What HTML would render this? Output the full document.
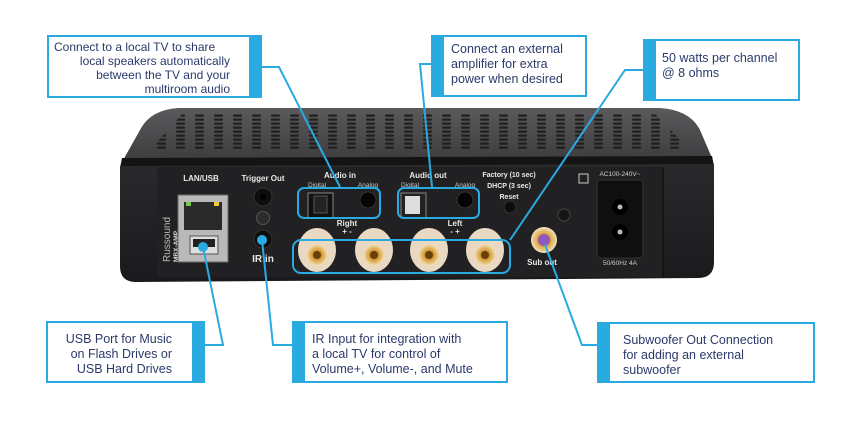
<!DOCTYPE html>
<html><head><meta charset="utf-8"><style>
html,body{margin:0;padding:0;background:#fff;}
body{width:852px;height:429px;position:relative;overflow:hidden;font-family:"Liberation Sans",sans-serif;}
.box{position:absolute;box-sizing:border-box;border:2px solid #29abe2;background:#fff;color:#2b3a6b;font-size:12.5px;line-height:15px;}
.barR{border-right:13px solid #29abe2;}
.barL{border-left:13px solid #29abe2;}
svg{position:absolute;left:0;top:0;}
</style></head><body>
<svg width="852" height="429" viewBox="0 0 852 429">
<defs>
<pattern id="vent" width="19" height="4" patternUnits="userSpaceOnUse" x="5" y="110">
<rect x="0" y="0.5" width="9" height="2.2" rx="1" fill="#1b1b1c"/>
</pattern>
<linearGradient id="topg" x1="0" y1="0" x2="0" y2="1">
<stop offset="0" stop-color="#5a5a5c"/><stop offset="1" stop-color="#3c3c3e"/>
</linearGradient>
<linearGradient id="frontg" x1="0" y1="0" x2="0" y2="1">
<stop offset="0" stop-color="#2a2a2c"/><stop offset="1" stop-color="#1a1a1c"/>
</linearGradient>
<radialGradient id="gold"><stop offset="0" stop-color="#8a5a10"/><stop offset="0.5" stop-color="#d9a441"/><stop offset="1" stop-color="#f3e2c0"/></radialGradient>
</defs>
<path d="M178,108 L660,108 Q690,110 700,130 L712,158 L122,162 L140,130 Q150,110 178,108 Z" fill="url(#topg)"/>
<path d="M182,114 L655,114 L690,150 L150,150 Z" fill="url(#vent)" opacity="0.9"/>
<path d="M122,158 L712,156 L714,166 L120,168 Z" fill="#141415"/>
<path d="M120,166 L714,164 L714,262 Q714,278 698,278 L136,282 Q120,282 120,266 Z" fill="url(#frontg)"/>
<rect x="157" y="167" width="506" height="110" fill="#212123"/>
<line x1="663" y1="167" x2="663" y2="277" stroke="#111" stroke-width="1.5"/>
<g fill="#e8e8e8" font-family="Liberation Sans,sans-serif" font-weight="bold" font-size="8" text-anchor="middle">
<text x="201" y="181">LAN/USB</text>
<text x="263" y="181">Trigger Out</text>
<text x="340" y="178">Audio in</text>
<text x="428" y="178">Audio out</text>
<text x="509" y="177" font-size="7">Factory (10 sec)</text>
<text x="509" y="188" font-size="7">DHCP (3 sec)</text>
<text x="509" y="199" font-size="7">Reset</text>
<text x="347" y="226">Right</text>
<text x="347" y="234">+ -</text>
<text x="455" y="226">Left</text>
<text x="455" y="234">- +</text>
<text x="263" y="262" font-size="10">IR in</text>
<text x="542" y="265">Sub out</text>
</g>
<g fill="#ccc" font-size="6.5" text-anchor="middle" font-family="Liberation Sans,sans-serif">
<text x="317" y="187">Digital</text><text x="368" y="187">Analog</text>
<text x="410" y="187">Digital</text><text x="465" y="187">Analog</text>
<text x="620" y="176">AC100-240V~</text>
<text x="620" y="265">50/60Hz 4A</text>
</g>
<text x="0" y="0" transform="translate(170,262) rotate(-90)" fill="#bbb" font-size="10" font-family="Liberation Sans,sans-serif">Russound</text>
<text x="0" y="0" transform="translate(178,262) rotate(-90)" fill="#ddd" font-size="6.5" font-weight="bold" font-family="Liberation Sans,sans-serif">MBX-AMP</text>
<rect x="178" y="195" width="50" height="67" fill="#b9b9b9" stroke="#666"/>
<rect x="184" y="202" width="38" height="28" fill="#2a2a2a"/>
<rect x="186" y="202" width="5" height="4" fill="#7c4"/><rect x="214" y="202" width="5" height="4" fill="#ec3"/>
<rect x="190" y="236" width="28" height="18" fill="#ddd" stroke="#555"/>
<rect x="193" y="239" width="22" height="8" fill="#222"/>
<circle cx="263" cy="197" r="9" fill="#0e0e0e" stroke="#333"/><circle cx="263" cy="197" r="3" fill="#000"/>
<circle cx="263" cy="218" r="6.5" fill="#2b2b2b" stroke="#555"/>
<circle cx="263" cy="239" r="9" fill="#0e0e0e" stroke="#333"/>
<rect x="308" y="193" width="25" height="25" fill="#111" stroke="#888"/>
<rect x="314" y="196" width="13" height="17" fill="#222" stroke="#555"/>
<circle cx="368" cy="200" r="8" fill="#050505" stroke="#333"/>
<rect x="401" y="193" width="25" height="25" fill="#222" stroke="#888"/>
<rect x="405" y="196" width="15" height="18" fill="#ddd"/>
<circle cx="465" cy="200" r="8" fill="#050505" stroke="#333"/>
<circle cx="510" cy="207" r="6" fill="#0d0d0d" stroke="#333"/>
<circle cx="564" cy="215" r="6" fill="#151515" stroke="#444"/>
<g>
<ellipse cx="317" cy="250" rx="19" ry="22" fill="#e9d9c3"/><circle cx="317" cy="255" r="11" fill="url(#gold)"/><circle cx="317" cy="255" r="4" fill="#6a3f08"/>
<ellipse cx="374" cy="250" rx="19" ry="22" fill="#e9d9c3"/><circle cx="374" cy="255" r="11" fill="url(#gold)"/><circle cx="374" cy="255" r="4" fill="#6a3f08"/>
<ellipse cx="429" cy="250" rx="19" ry="22" fill="#e9d9c3"/><circle cx="429" cy="255" r="11" fill="url(#gold)"/><circle cx="429" cy="255" r="4" fill="#6a3f08"/>
<ellipse cx="485" cy="250" rx="19" ry="22" fill="#e9d9c3"/><circle cx="485" cy="255" r="11" fill="url(#gold)"/><circle cx="485" cy="255" r="4" fill="#6a3f08"/>
</g>
<circle cx="544" cy="240" r="13" fill="url(#gold)"/><circle cx="544" cy="240" r="6" fill="#a050b0"/><circle cx="544" cy="240" r="2.5" fill="#eee"/>
<rect x="579" y="174" width="9" height="9" fill="none" stroke="#ccc"/>
<rect x="597" y="180" width="46" height="78" rx="3" fill="#0f0f0f" stroke="#333"/>
<circle cx="620" cy="207" r="8" fill="#000"/><circle cx="620" cy="207" r="2.5" fill="#bbb"/>
<circle cx="620" cy="232" r="8" fill="#000"/><circle cx="620" cy="232" r="2.5" fill="#bbb"/>
<g fill="none" stroke="#29abe2" stroke-width="2">
<rect x="298" y="188" width="82" height="30" rx="6"/>
<rect x="398" y="188" width="81" height="30" rx="6"/>
<rect x="293" y="240" width="217" height="33" rx="8"/>
<polyline points="262,67 279,67 340,187"/>
<polyline points="431,64 420,64 432,187"/>
<polyline points="643,70 625,70 510,240"/>
<polyline points="205,345 223,345 203,247"/>
<polyline points="292,345 273,345 262,240"/>
<polyline points="597,345 582,345 544,242"/>
</g>
<circle cx="203" cy="247" r="5" fill="#29abe2"/>
<circle cx="262" cy="240" r="5" fill="#29abe2"/>
<circle cx="544" cy="240" r="4.5" fill="#8a5bc0"/>
</svg>
<div class="box barR" style="left:47px;top:35px;width:215px;height:63px;padding:3px 19px 0 5px;text-align:right;font-size:12px;line-height:14px;">
<div style="text-align:left">Connect to a local TV to share</div>local speakers automatically<br>between the TV and your<br>multiroom audio</div>
<div class="box barL" style="left:431px;top:35px;width:156px;height:62px;padding:5px 4px 0 7px;">Connect an external<br>amplifier for extra<br>power when desired</div>
<div class="box barL" style="left:643px;top:39px;width:157px;height:62px;padding:10px 4px 0 6px;">50 watts per channel<br>@ 8 ohms</div>
<div class="box barR" style="left:46px;top:321px;width:159px;height:62px;padding:9px 20px 0 4px;text-align:right;">USB Port for Music<br>on Flash Drives or<br>USB Hard Drives</div>
<div class="box barL" style="left:292px;top:321px;width:216px;height:62px;padding:9px 4px 0 7px;">IR Input for integration with<br>a local TV for control of<br>Volume+, Volume-, and Mute</div>
<div class="box barL" style="left:597px;top:322px;width:218px;height:61px;padding:9px 4px 0 13px;">Subwoofer Out Connection<br>for adding an external<br>subwoofer</div>
</body></html>
